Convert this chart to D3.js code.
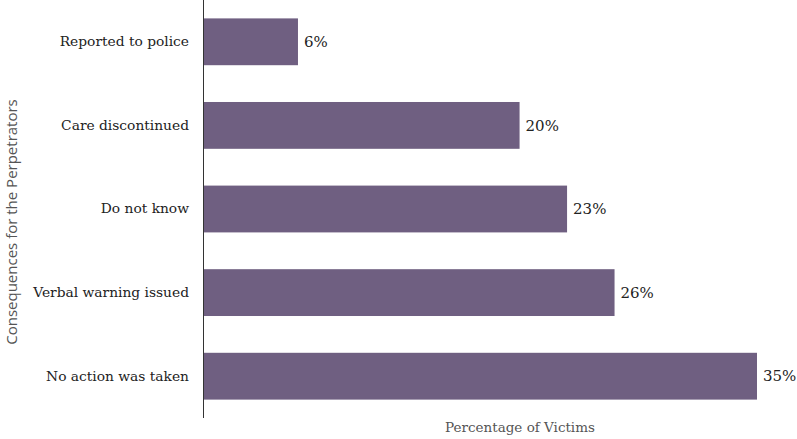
<!DOCTYPE html>
<html><head><meta charset="utf-8">
<script src="https://cdn.jsdelivr.net/npm/d3@7"></script>
<style>body{margin:0;background:#fff}</style>
</head><body>
<svg id="c" width="797" height="439"></svg>
<script>
const categories = ["Reported to police","Care discontinued","Do not know","Verbal warning issued","No action was taken"];
const values = [6,20,23,26,35];
const xTitle = "Percentage of Victims";
const yTitle = "Consequences for the Perpetrators";

const svg = d3.select("#c");
const serif = "Georgia, 'DejaVu Serif', 'Liberation Serif', serif";
const x = d3.scaleLinear().domain([0,35]).range([203,757]);
const y = d3.scaleBand().domain(categories).range([0,418]).paddingInner(0.44).paddingOuter(0.22);

svg.selectAll("rect.bar").data(categories).enter().append("rect")
  .attr("class","bar")
  .attr("x", x(0))
  .attr("y", d=>y(d))
  .attr("width", (d,i)=>x(values[i])-x(0))
  .attr("height", y.bandwidth())
  .attr("fill","#6f5f81");

svg.selectAll("text.val").data(categories).enter().append("text")
  .attr("x",(d,i)=>x(values[i])+6)
  .attr("y", d=>y(d)+y.bandwidth()/2)
  .attr("dy","0.35em")
  .attr("font-family", serif).attr("font-size",15).attr("fill","#222")
  .text((d,i)=>values[i]+"%");

const yAxis = d3.axisLeft(y).tickSize(0).tickPadding(14);
const g = svg.append("g").attr("transform",`translate(${x(0)},0)`).call(yAxis);
g.select(".domain").attr("stroke","#333").attr("d","M0.5,0V418");
g.selectAll("text").attr("font-family", serif).attr("font-size",13.8).attr("fill","#222");

svg.append("text").attr("x",520).attr("y",432).attr("text-anchor","middle")
  .attr("font-family", serif).attr("font-size",13.5).attr("fill","#555").text(xTitle);
svg.append("text").attr("transform","translate(17,222) rotate(-90)").attr("text-anchor","middle")
  .attr("font-family","'Open Sans', 'Noto Sans', sans-serif").attr("font-size",15).attr("fill","#555").text(yTitle);
</script>
</body></html>
